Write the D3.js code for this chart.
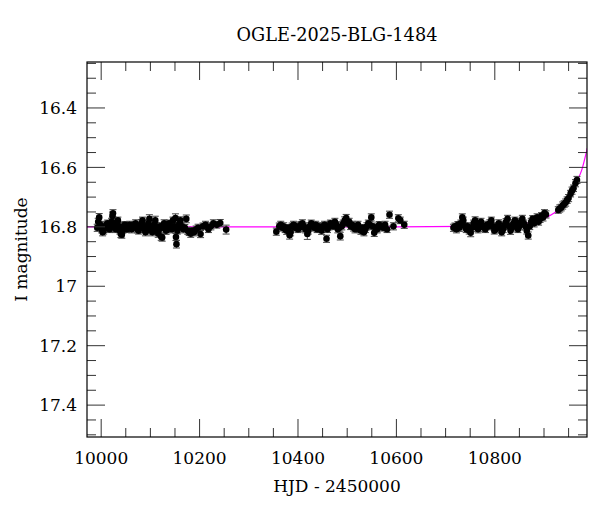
<!DOCTYPE html>
<html>
<head>
<meta charset="utf-8">
<script src="https://cdn.jsdelivr.net/npm/d3@7"></script>
<style>
html,body{margin:0;padding:0;background:#fff;}
svg{display:block;}
text{font-family:"DejaVu Serif",serif;fill:#000;}
</style>
</head>
<body>
<svg id="chart" width="600" height="512"></svg>
<script>
// ---- data (HJD-2450000, I mag, error) ----
const season1 = [
[9993,16.805,0.012],[9995,16.785,0.012],[9997,16.770,0.013],[9999,16.795,0.011],[10002,16.810,0.012],
[10004,16.820,0.012],[10006,16.815,0.011],[10008,16.800,0.012],[10010,16.805,0.010],[10012,16.795,0.012],
[10014,16.790,0.011],[10016,16.800,0.012],[10018,16.810,0.011],[10020,16.805,0.012],[10022,16.785,0.012],
[10024,16.765,0.013],[10025,16.756,0.012],[10027,16.790,0.011],[10029,16.800,0.012],[10031,16.810,0.011],
[10033,16.795,0.012],[10035,16.780,0.011],[10037,16.800,0.012],[10039,16.815,0.011],[10041,16.826,0.012],
[10043,16.828,0.012],[10045,16.812,0.011],[10047,16.800,0.012],[10049,16.795,0.011],[10051,16.805,0.012],
[10053,16.810,0.011],[10055,16.800,0.012],[10057,16.805,0.011],[10059,16.795,0.012],[10061,16.800,0.011],
[10063,16.810,0.012],[10065,16.805,0.011],[10067,16.800,0.012],[10069,16.795,0.011],[10071,16.790,0.012],
[10073,16.800,0.011],[10075,16.810,0.012],[10077,16.815,0.011],[10079,16.800,0.012],[10081,16.805,0.011],
[10083,16.790,0.012],[10085,16.780,0.011],[10087,16.800,0.012],[10089,16.810,0.011],[10091,16.820,0.012],
[10093,16.815,0.011],[10095,16.805,0.012],[10097,16.790,0.011],[10099,16.775,0.014],[10101,16.800,0.012],
[10103,16.810,0.011],[10105,16.820,0.012],[10107,16.805,0.011],[10109,16.795,0.012],[10111,16.780,0.014],
[10113,16.800,0.012],[10115,16.815,0.011],[10117,16.825,0.012],[10119,16.810,0.011],[10121,16.800,0.012],
[10123,16.835,0.012],[10125,16.838,0.012],[10127,16.805,0.011],[10129,16.790,0.012],[10131,16.800,0.011],
[10133,16.815,0.012],[10135,16.810,0.011],[10137,16.800,0.012],[10139,16.790,0.011],[10141,16.805,0.012],
[10143,16.800,0.011],[10145,16.810,0.012],[10147,16.780,0.011],[10150,16.800,0.012],[10152,16.772,0.014],
[10153,16.836,0.012],[10154,16.860,0.013],[10156,16.815,0.011],[10158,16.800,0.012],[10160,16.790,0.011],
[10162,16.780,0.012],[10165,16.800,0.011],[10168,16.810,0.012],[10171,16.805,0.011],[10174,16.775,0.013],
[10177,16.815,0.012],[10180,16.820,0.011],[10183,16.825,0.012],[10186,16.815,0.011],[10190,16.820,0.012],
[10194,16.810,0.011],[10198,16.805,0.012],[10203,16.826,0.012],[10208,16.800,0.011],[10213,16.795,0.012],
[10219,16.810,0.011],[10224,16.800,0.012],[10229,16.790,0.012],[10236,16.795,0.011],[10243,16.789,0.012],
[10255,16.811,0.015]
];
const season2 = [
[10357,16.818,0.012],[10363,16.800,0.011],[10366,16.795,0.012],[10369,16.805,0.011],[10372,16.800,0.012],
[10375,16.810,0.011],[10378,16.815,0.012],[10381,16.805,0.011],[10384,16.830,0.013],[10386,16.820,0.012],
[10389,16.800,0.011],[10392,16.795,0.012],[10395,16.805,0.011],[10398,16.800,0.012],[10401,16.810,0.011],
[10404,16.805,0.012],[10407,16.795,0.011],[10410,16.790,0.012],[10413,16.800,0.011],[10416,16.810,0.012],
[10420,16.826,0.018],[10422,16.815,0.011],[10425,16.800,0.012],[10428,16.790,0.011],[10431,16.800,0.012],
[10434,16.805,0.011],[10437,16.795,0.012],[10440,16.810,0.011],[10443,16.800,0.012],[10446,16.805,0.011],
[10449,16.815,0.012],[10452,16.800,0.011],[10455,16.795,0.012],[10459,16.842,0.012],[10461,16.810,0.011],
[10464,16.800,0.012],[10467,16.790,0.011],[10470,16.795,0.012],[10473,16.800,0.011],[10476,16.785,0.012],
[10479,16.795,0.011],[10482,16.810,0.012],[10485,16.805,0.011],[10487,16.833,0.013],[10490,16.800,0.012],
[10493,16.790,0.011],[10496,16.780,0.012],[10499,16.772,0.012],[10502,16.790,0.011],[10505,16.785,0.012],
[10508,16.800,0.011],[10511,16.795,0.012],[10514,16.805,0.011],[10517,16.810,0.012],[10520,16.800,0.011],
[10523,16.795,0.012],[10526,16.810,0.011],[10529,16.815,0.012],[10532,16.805,0.011],[10535,16.820,0.012],
[10538,16.810,0.011],[10541,16.800,0.012],[10544,16.790,0.011],[10547,16.795,0.012],[10550,16.770,0.012],
[10553,16.800,0.011],[10556,16.822,0.012],[10559,16.805,0.011],[10562,16.810,0.012],[10566,16.795,0.011],
[10570,16.800,0.012],[10574,16.805,0.011],[10578,16.795,0.012],[10582,16.810,0.011],[10587,16.761,0.012],
[10595,16.800,0.012],[10605,16.773,0.012],[10609,16.780,0.011],[10617,16.795,0.012]
];
const season3 = [
[10717,16.805,0.012],[10720,16.800,0.011],[10723,16.810,0.012],[10726,16.795,0.011],[10729,16.805,0.012],
[10732,16.790,0.011],[10735,16.770,0.012],[10737,16.780,0.011],[10740,16.800,0.012],[10743,16.810,0.011],
[10746,16.800,0.012],[10749,16.815,0.011],[10752,16.822,0.013],[10755,16.805,0.012],[10758,16.790,0.011],
[10761,16.780,0.012],[10764,16.800,0.011],[10767,16.810,0.012],[10770,16.795,0.011],[10773,16.785,0.012],
[10776,16.800,0.011],[10779,16.805,0.012],[10782,16.810,0.011],[10785,16.795,0.012],[10788,16.800,0.011],
[10791,16.790,0.012],[10794,16.780,0.011],[10797,16.800,0.012],[10800,16.815,0.011],[10803,16.810,0.012],
[10806,16.800,0.011],[10809,16.790,0.012],[10812,16.805,0.011],[10815,16.820,0.012],[10818,16.810,0.011],
[10821,16.795,0.012],[10824,16.785,0.011],[10827,16.775,0.012],[10830,16.800,0.011],[10833,16.815,0.012],
[10836,16.805,0.011],[10839,16.790,0.012],[10842,16.780,0.011],[10845,16.795,0.012],[10848,16.810,0.011],
[10851,16.800,0.012],[10854,16.785,0.011],[10857,16.775,0.012],[10860,16.790,0.011],[10863,16.800,0.012],
[10866,16.815,0.011],[10869,16.831,0.012],[10872,16.800,0.011],[10875,16.785,0.012],[10878,16.775,0.011],
[10881,16.790,0.012],[10884,16.780,0.011],[10887,16.770,0.012],[10890,16.785,0.011],[10893,16.775,0.012],
[10896,16.765,0.011],[10899,16.770,0.012],[10902,16.755,0.011],[10905,16.760,0.012],
[10930,16.745,0.011],[10933,16.740,0.012],[10936,16.737,0.011],[10939,16.730,0.012],[10942,16.725,0.011],
[10945,16.720,0.012],[10948,16.712,0.011],[10951,16.705,0.012],[10955,16.690,0.011],[10958,16.680,0.012],
[10961,16.672,0.011],[10965,16.655,0.012],[10968,16.644,0.012]
];
// model curve: [HJD-2450000, I mag]
const model = [
[9972,16.802],[10600,16.802],[10740,16.800],[10805,16.798],[10853,16.791],[10894,16.779],
[10920,16.757],[10941,16.726],[10955,16.689],[10968,16.648],[10978,16.609],[10989,16.537]
];
const xTicks = [10000,10200,10400,10600,10800];
const yTicks = [16.4,16.6,16.8,17,17.2,17.4];
const titleText = "OGLE-2025-BLG-1484";
const xLabel = "HJD - 2450000";
const yLabel = "I magnitude";

// ---- layout ----
const svg = d3.select("#chart");
const L = 87, R = 587, T = 62, B = 437;
const x = d3.scaleLinear().domain([9972.2, 10988.4]).range([L, R]);
const y = d3.scaleLinear().domain([16.247, 17.509]).range([T, B]);

const points = season1.concat(season2, season3);

svg.append("defs").append("clipPath").attr("id","clip")
  .append("rect").attr("x",L).attr("y",T).attr("width",R-L).attr("height",B-T);

const plot = svg.append("g").attr("clip-path","url(#clip)");

// model line
plot.append("path")
  .datum(model)
  .attr("fill","none")
  .attr("stroke","#ff00ff")
  .attr("stroke-width",1.2)
  .attr("d", d3.line().x(d=>x(d[0])).y(d=>y(d[1])).curve(d3.curveMonotoneX));

// error bars
const eb = plot.append("g").attr("stroke","#444").attr("stroke-width",1);
points.forEach(d=>{
  const cx = x(d[0]), y1 = y(d[1]-d[2]), y2 = y(d[1]+d[2]);
  eb.append("line").attr("x1",cx).attr("x2",cx).attr("y1",y1).attr("y2",y2);
  eb.append("line").attr("x1",cx-3.5).attr("x2",cx+3.5).attr("y1",y1).attr("y2",y1);
  eb.append("line").attr("x1",cx-3.5).attr("x2",cx+3.5).attr("y1",y2).attr("y2",y2);
});
plot.append("g").selectAll("circle").data(points).join("circle")
  .attr("cx",d=>x(d[0])).attr("cy",d=>y(d[1])).attr("r",3.3).attr("fill","#000");

// axes with inward ticks on all four sides
const xMinor = d3.range(9950, 11001, 50).filter(v=>v>x.domain()[0] && v<x.domain()[1] && !xTicks.includes(v));
const yMinor = d3.range(16.25, 17.51, 0.05).map(v=>+v.toFixed(2))
  .filter(v=>v>y.domain()[0]+0.001 && v<y.domain()[1] && !yTicks.some(t=>Math.abs(t-v)<1e-6));

function tickLines(g, axisGen){ g.call(axisGen); g.select(".domain").remove(); g.selectAll("line").attr("stroke","#333"); return g; }

const gb = tickLines(svg.append("g").attr("transform",`translate(0,${B})`),
  d3.axisBottom(x).tickValues(xTicks).tickSize(-18).tickFormat(d3.format("d")));
gb.selectAll("text").attr("font-size","17px").attr("font-family","DejaVu Serif").attr("dy","0").attr("y",27);
tickLines(svg.append("g").attr("transform",`translate(0,${B})`), d3.axisBottom(x).tickValues(xMinor).tickSize(-9).tickFormat(""));
tickLines(svg.append("g").attr("transform",`translate(0,${T})`), d3.axisTop(x).tickValues(xTicks).tickSize(-18).tickFormat(""));
tickLines(svg.append("g").attr("transform",`translate(0,${T})`), d3.axisTop(x).tickValues(xMinor).tickSize(-9).tickFormat(""));

const gl = tickLines(svg.append("g").attr("transform",`translate(${L},0)`),
  d3.axisLeft(y).tickValues(yTicks).tickSize(-18).tickFormat(d=>String(d)));
gl.selectAll("text").attr("font-size","17px").attr("font-family","DejaVu Serif").attr("x",-10).attr("dy","0.36em");
tickLines(svg.append("g").attr("transform",`translate(${L},0)`), d3.axisLeft(y).tickValues(yMinor).tickSize(-9).tickFormat(""));
tickLines(svg.append("g").attr("transform",`translate(${R},0)`), d3.axisRight(y).tickValues(yTicks).tickSize(-18).tickFormat(""));
tickLines(svg.append("g").attr("transform",`translate(${R},0)`), d3.axisRight(y).tickValues(yMinor).tickSize(-9).tickFormat(""));

// frame
svg.append("rect").attr("x",L).attr("y",T).attr("width",R-L).attr("height",B-T)
  .attr("fill","none").attr("stroke","#000").attr("stroke-width",1.2);

// texts
svg.append("text").attr("x",(L+R)/2).attr("y",41).attr("text-anchor","middle")
  .attr("font-size","17.7px").text(titleText);
svg.append("text").attr("x",(L+R)/2).attr("y",492).attr("text-anchor","middle")
  .attr("font-size","17px").text(xLabel);
svg.append("text").attr("transform",`translate(27,${(T+B)/2}) rotate(-90)`).attr("text-anchor","middle")
  .attr("font-size","17px").text(yLabel);
</script>
</body>
</html>
